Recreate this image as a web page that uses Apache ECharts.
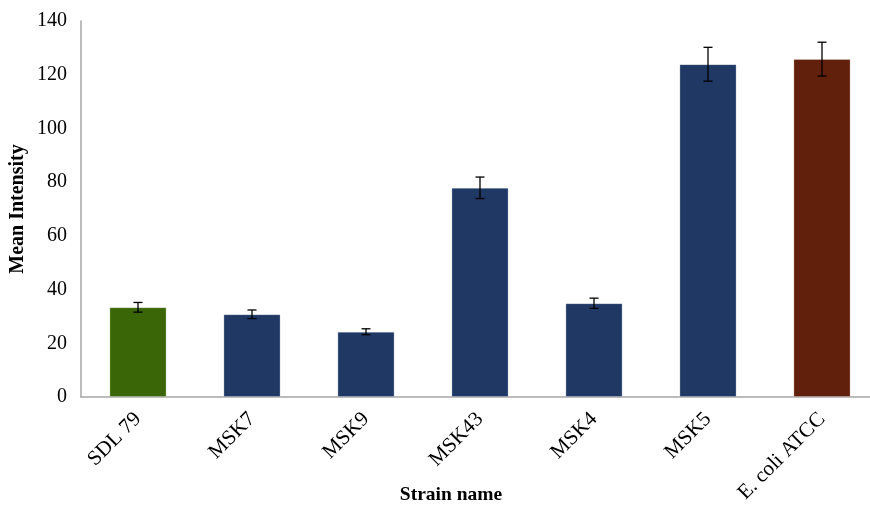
<!DOCTYPE html>
<html><head><meta charset="utf-8">
<script src="https://cdn.jsdelivr.net/npm/echarts@6/dist/echarts.min.js"></script>
<style>html,body{margin:0;padding:0;background:#fff}#c{width:870px;height:506px}</style>
</head><body><div id="c"></div>
<script>
const categories = ['SDL 79', 'MSK7', 'MSK9', 'MSK43', 'MSK4', 'MSK5', 'E. coli ATCC'];
const meanValues = [33.4, 30.8, 24.3, 77.9, 34.9, 123.9, 125.8];
const errorValues = [1.8, 1.6, 1.1, 4.0, 1.9, 6.3, 6.3];
const barColors = ['#3b6608', '#203864', '#203864', '#203864', '#203864', '#203864', '#61200b'];
const yTicks = [0, 20, 40, 60, 80, 100, 120, 140];

const chart = echarts.init(document.getElementById('c'));
const font = 'Liberation Serif, Times New Roman, serif';
chart.setOption({
  animation: false,
  grid: { left: 81, top: 21, bottom: 109, right: -9, outerBoundsMode: 'none', containLabel: false },
  xAxis: {
    type: 'category',
    data: categories,
    axisLine: { lineStyle: { color: '#a6a6a6', width: 1.5 } },
    axisTick: { show: false },
    axisLabel: { rotate: 45, fontFamily: font, fontSize: 21, color: '#000', margin: 19, interval: 0 },
    name: 'Strain name',
    nameLocation: 'middle',
    nameGap: 88,
    nameMoveOverlap: false,
    nameTextStyle: { fontFamily: font, fontSize: 19.5, fontWeight: 'bold', color: '#000', padding: [0, 58, 0, 0] }
  },
  yAxis: {
    type: 'value',
    min: yTicks[0],
    max: yTicks[yTicks.length - 1],
    interval: 20,
    axisLine: { show: true, lineStyle: { color: '#a6a6a6', width: 1.5 } },
    axisTick: { show: false },
    splitLine: { show: false },
    axisLabel: { fontFamily: font, fontSize: 20, color: '#000', margin: 14 },
    name: 'Mean Intensity',
    nameLocation: 'middle',
    nameRotate: 90,
    nameGap: 53,
    nameMoveOverlap: false,
    nameTextStyle: { fontFamily: font, fontSize: 20, fontWeight: 'bold', color: '#000' }
  },
  series: [
    {
      type: 'bar',
      barWidth: '50%',
      data: meanValues.map((v, i) => ({ value: v, itemStyle: { color: barColors[i], borderColor: 'rgba(255,255,255,0.35)', borderWidth: 0.8 } }))
    },
    {
      type: 'custom',
      z: 10,
      data: meanValues.map((v, i) => [i, v - errorValues[i], v + errorValues[i]]),
      renderItem: function (params, api) {
        const x = api.value(0);
        const lo = api.coord([x, api.value(1)]);
        const hi = api.coord([x, api.value(2)]);
        const hw = 4.5;
        const st = { stroke: '#000', lineWidth: 1.3 };
        return {
          type: 'group',
          children: [
            { type: 'line', shape: { x1: lo[0], y1: lo[1], x2: hi[0], y2: hi[1] }, style: st },
            { type: 'line', shape: { x1: hi[0] - hw, y1: hi[1], x2: hi[0] + hw, y2: hi[1] }, style: st },
            { type: 'line', shape: { x1: lo[0] - hw, y1: lo[1], x2: lo[0] + hw, y2: lo[1] }, style: st }
          ]
        };
      }
    }
  ]
});
</script></body></html>
